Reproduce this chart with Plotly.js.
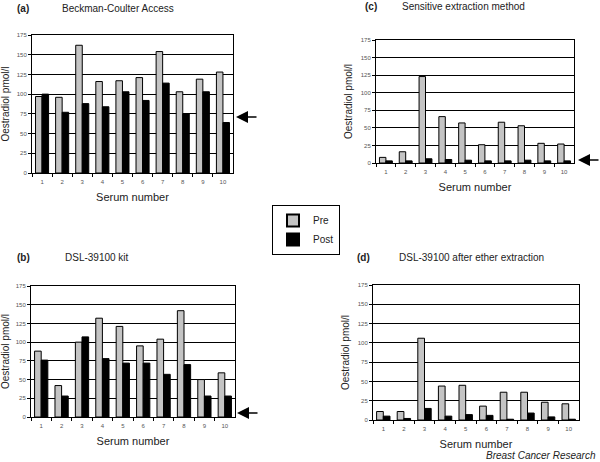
<!DOCTYPE html>
<html><head><meta charset="utf-8">
<script src="https://cdn.plot.ly/plotly-3.0.1.min.js"></script>
<style>body{margin:0;background:#fff}#c{width:600px;height:462px}</style>
</head><body><div id="c"></div>
<script>
const serum = ['1','2','3','4','5','6','7','8','9','10'];
const preA  = [97, 96, 162, 116, 117, 121, 154, 103, 119, 128];
const postA = [100, 77, 88, 84, 103, 92, 114, 75, 103, 64];
const preB  = [88, 42, 100, 132, 121, 95, 104, 142, 50, 59];
const postB = [76, 28, 107, 78, 72, 72, 57, 70, 28, 28];
const preC  = [8, 16, 123, 66, 57, 26, 58, 53, 28, 27];
const postC = [3, 3, 6, 5, 4, 3, 3, 4, 3, 3];
const preD  = [11, 11, 106, 44, 45, 18, 36, 36, 23, 21];
const postD = [5, 2, 15, 5, 7, 6, 1, 9, 4, 1];
const yTicks = [0, 25, 50, 75, 100, 125, 150, 175];

const panels = [
  {pre: preA, post: postA, x: 'x',  y: 'y'},
  {pre: preC, post: postC, x: 'x2', y: 'y2'},
  {pre: preB, post: postB, x: 'x3', y: 'y3'},
  {pre: preD, post: postD, x: 'x4', y: 'y4'}
];
const traces = [];
panels.forEach((p, i) => {
  traces.push({type:'bar', name:'Pre', x: serum, y: p.pre, xaxis: p.x, yaxis: p.y,
    marker:{color:'#c4c4c4', line:{color:'#000', width:1}}, showlegend: i===0, legendgroup:'pre'});
  traces.push({type:'bar', name:'Post', x: serum, y: p.post, xaxis: p.x, yaxis: p.y,
    marker:{color:'#000', line:{color:'#000', width:1}}, showlegend: i===0, legendgroup:'post'});
});

const H = 462, W = 600;
function xd(a,b){return [a/W, b/W];}
function yd(top,bot){return [(H-bot)/H, (H-top)/H];}
const font = 'Liberation Sans, Arial, sans-serif';
function xax(dom, anchor){
  return {domain: dom, anchor: anchor, type:'category', showline:true, mirror:true, linecolor:'#000', linewidth:1,
    ticks:'outside', tickson:'boundaries', ticklen:3, tickcolor:'#000', showgrid:false,
    ticklabelstandoff:3,
    tickfont:{size:6, color:'#555', family:font},
    title:{text:'Serum number', font:{size:11, color:'#222', family:font}, standoff:9}};
}
function yax(dom, anchor){
  return {domain: dom, anchor: anchor, range:[0,175], tickvals: yTicks, showline:true, mirror:true,
    linecolor:'#000', linewidth:1, ticks:'outside', ticklen:3, tickcolor:'#000',
    showgrid:true, gridcolor:'#000', gridwidth:1, zeroline:false,
    tickfont:{size:6, color:'#555', family:font},
    title:{text:'Oestradiol pmol/l', font:{size:10, color:'#222', family:font}, standoff:6}};
}
const layout = {
  width: W, height: H, margin:{l:0,r:0,t:0,b:0}, paper_bgcolor:'#fff', plot_bgcolor:'#fff',
  barmode:'group', bargap:0.35, bargroupgap:0,
  font:{family:font},
  xaxis: xax(xd(32,233),'y'),   yaxis: yax(yd(35,173),'x'),
  xaxis2: xax(xd(376,574),'y2'), yaxis2: yax(yd(40,163),'x2'),
  xaxis3: xax(xd(31,235),'y3'), yaxis3: yax(yd(286,417),'x3'),
  xaxis4: xax(xd(373,579),'y4'), yaxis4: yax(yd(285,420),'x4'),
  legend:{x:272/W, y:(H-205)/H, xanchor:'left', yanchor:'top', bordercolor:'#000', borderwidth:1,
    bgcolor:'#fff', font:{size:10, color:'#222', family:font}, tracegroupgap:0, itemwidth:30, itemsizing:'constant'},
  showlegend:true,
  annotations: [
    {text:'<b>(a)</b>', x:15/W, y:(H-9)/H, xref:'paper', yref:'paper', xanchor:'left', yanchor:'middle', showarrow:false, font:{size:10, color:'#222'}},
    {text:'Beckman-Coulter Access', x:60/W, y:(H-9)/H, xref:'paper', yref:'paper', xanchor:'left', yanchor:'middle', showarrow:false, font:{size:10, color:'#222'}},
    {text:'<b>(c)</b>', x:363/W, y:(H-7)/H, xref:'paper', yref:'paper', xanchor:'left', yanchor:'middle', showarrow:false, font:{size:10, color:'#222'}},
    {text:'Sensitive extraction method', x:400/W, y:(H-7)/H, xref:'paper', yref:'paper', xanchor:'left', yanchor:'middle', showarrow:false, font:{size:10, color:'#222'}},
    {text:'<b>(b)</b>', x:15/W, y:(H-257)/H, xref:'paper', yref:'paper', xanchor:'left', yanchor:'middle', showarrow:false, font:{size:10, color:'#222'}},
    {text:'DSL-39100 kit', x:63/W, y:(H-257)/H, xref:'paper', yref:'paper', xanchor:'left', yanchor:'middle', showarrow:false, font:{size:10, color:'#222'}},
    {text:'<b>(d)</b>', x:355/W, y:(H-257)/H, xref:'paper', yref:'paper', xanchor:'left', yanchor:'middle', showarrow:false, font:{size:10, color:'#222'}},
    {text:'DSL-39100 after ether extraction', x:397/W, y:(H-257)/H, xref:'paper', yref:'paper', xanchor:'left', yanchor:'middle', showarrow:false, font:{size:10, color:'#222'}},
    {text:'<i>Breast Cancer Research</i>', x:598/W, y:(H-455)/H, xref:'paper', yref:'paper', xanchor:'right', yanchor:'middle', showarrow:false, font:{size:10, color:'#222'}},
    {text:'', x:236/W, y:(H-117)/H, xref:'paper', yref:'paper', ax:22, ay:0, showarrow:true, arrowhead:2, arrowsize:1.6, arrowwidth:1.5, arrowcolor:'#000'},
    {text:'', x:578/W, y:(H-160)/H, xref:'paper', yref:'paper', ax:22, ay:0, showarrow:true, arrowhead:2, arrowsize:1.6, arrowwidth:1.5, arrowcolor:'#000'},
    {text:'', x:237/W, y:(H-413)/H, xref:'paper', yref:'paper', ax:22, ay:0, showarrow:true, arrowhead:2, arrowsize:1.6, arrowwidth:1.5, arrowcolor:'#000'}
  ]
};
Plotly.newPlot('c', traces, layout, {displayModeBar:false, staticPlot:true});
</script></body></html>
